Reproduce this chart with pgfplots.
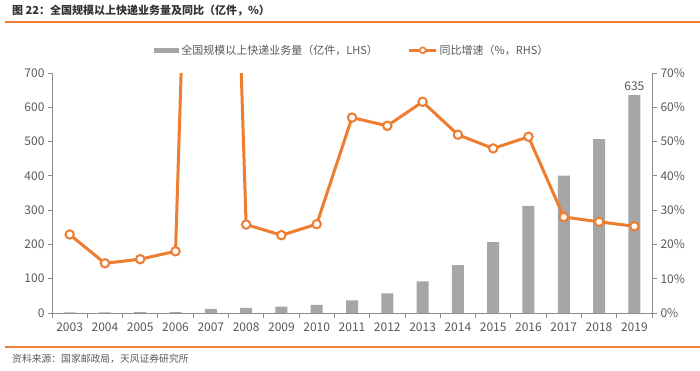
\documentclass[border=0pt]{standalone}
\usepackage{pgfplots}
\pgfplotsset{compat=1.18}
\usepackage{fontspec}
\setmainfont{Noto Sans CJK SC}
\definecolor{txt}{RGB}{89,89,89}
\definecolor{axg}{RGB}{140,140,140}
\definecolor{barg}{RGB}{166,166,166}
\definecolor{org}{RGB}{237,125,49}
\begin{document}
\begin{tikzpicture}[x=1pt,y=1pt]
\useasboundingbox (0,0) rectangle (700,370);
\fill[white] (0,0) rectangle (700,370);
% title & rules
\node[anchor=west,font=\fontsize{11}{13}\selectfont\bfseries,text=black!80, inner sep=0pt] at (12,359) {图 22：全国规模以上快递业务量及同比（亿件，\%）};
\draw[org,line width=1.5pt] (5,348) -- (700,348);
\draw[org,line width=1.5pt] (5,23) -- (700,23);
\node[anchor=west,font=\fontsize{9.8}{12}\selectfont,text=txt, inner sep=0pt] at (12,11) {资料来源：国家邮政局，天风证券研究所};
\pgfplotsset{
  every axis/.append style={
    scale only axis, width=600pt, height=240pt,
    at={(52pt,57pt)}, anchor=south west,
    xmin=-0.5, xmax=16.5,
    tick label style={font=\fontsize{12}{14}\selectfont, text=txt},
    /pgf/number format/assume math mode=true,
  }
}
\begin{axis}[
  ymin=0, ymax=700, ytick={0,100,...,700},
  axis x line*=bottom, axis y line*=left,
  axis line style={axg, line width=0.8pt},
  xtick={0,...,16},
  xticklabels={2003,2004,2005,2006,2007,2008,2009,2010,2011,2012,2013,2014,2015,2016,2017,2018,2019},
  major x tick style={draw=none},
  minor xtick={-0.5,0.5,...,16.5},
  minor x tick style={axg, line width=0.8pt},
  minor tick length=5pt,
  major tick length=4pt,
  y tick style={axg, line width=0.8pt},
  tick align=outside,
  xticklabel style={yshift=-2pt},
  legend style={at={(0.5,1.0)}, anchor=south, yshift=13pt, draw=none, fill=none,
    font=\fontsize{11}{13}\selectfont, text=txt, /tikz/every even column/.append style={column sep=28pt}},
  legend columns=2,
  legend image code/.code={},
  clip=true,
]
\addplot[ybar, bar width=12pt, fill=barg, draw=none, bar shift=0pt,
  area legend, legend image code/.code={\fill[barg] (-0.1cm,-0.09cm) rectangle (0.8cm,0.09cm);}]
coordinates {(0,1.7) (1,2.0) (2,2.3) (3,2.7) (4,12.0) (5,15.1) (6,18.6) (7,23.4) (8,36.7) (9,56.9) (10,91.9) (11,139.6) (12,206.7) (13,312.8) (14,400.6) (15,507.1) (16,635.2)};
\addlegendentry{全国规模以上快递业务量（亿件，LHS）}
\addlegendimage{org, line width=2.5pt, legend image code/.code={\draw[org,line width=2.8pt] (-0.1cm,0) -- (0.85cm,0); \draw[org,line width=1.6pt,fill=white] (0.375cm,0) circle (3pt);}}
\addlegendentry{同比增速（\%，RHS）}
\node[above, font=\fontsize{12}{14}\selectfont, text=txt, yshift=1pt] at (axis cs:16,635.2) {635};
\end{axis}
\begin{axis}[
  ymin=0, ymax=70, ytick={0,10,...,70},
  yticklabel={\pgfmathprintnumber{\tick}\%},
  axis x line=none, axis y line*=right,
  axis line style={axg, line width=0.8pt},
  y tick style={axg, line width=0.8pt},
  tick align=outside, major tick length=5pt,
  clip=true,
]
\addplot[org, line width=3pt, mark=*, mark size=4.2pt, mark options={fill=white, draw=org, line width=2pt}]
coordinates {(0,22.9) (1,14.5) (2,15.7) (3,18.0) (4,346) (5,25.8) (6,22.7) (7,25.9) (8,57.0) (9,54.6) (10,61.6) (11,52.0) (12,48.0) (13,51.4) (14,28.0) (15,26.6) (16,25.3)};
\end{axis}
\end{tikzpicture}
\end{document}
